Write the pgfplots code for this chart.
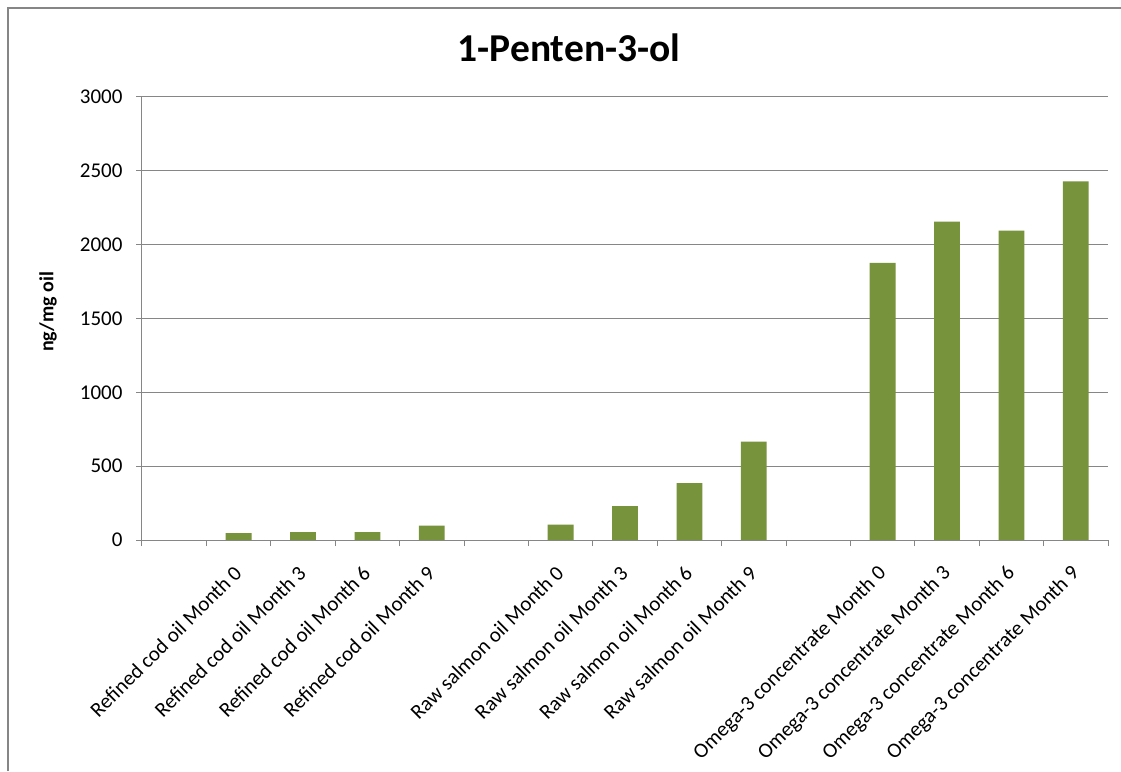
\documentclass[border=0pt]{standalone}
\usepackage{pgfplots}
\pgfplotsset{compat=1.18}
\usepackage{fontspec}
\setmainfont{Carlito}
\definecolor{barcol}{RGB}{119,147,60}
\definecolor{gridcol}{RGB}{134,134,134}
\begin{document}
\begin{tikzpicture}[x=1pt,y=1pt]
\fill[white] (0,0) rectangle (1121,771);
\draw[gridcol, line width=1.5pt] (8,0) -- (8,763) -- (1125,763);
\node[anchor=base, font=\fontsize{39.5}{44}\selectfont\bfseries] at (569,709) {1-Penten-3-ol};
\begin{axis}[
  at={(142pt,231pt)}, anchor=south west,
  width=966pt, height=443pt, scale only axis,
  xmin=0, xmax=15, ymin=0, ymax=3000,
  axis x line*=bottom, axis y line*=left,
  x axis line style={-}, y axis line style={-},
  axis line style={gridcol, line width=1pt},
  ytick={0,500,...,3000},
  ymajorgrids, grid style={gridcol, line width=1pt},
  xtick={0,...,15}, x tick label as interval,
  xticklabels={{},{Refined cod oil Month 0},{Refined cod oil Month 3},{Refined cod oil Month 6},{Refined cod oil Month 9},{},{Raw salmon oil Month 0},{Raw salmon oil Month 3},{Raw salmon oil Month 6},{Raw salmon oil Month 9},{},{Omega-3 concentrate Month 0},{Omega-3 concentrate Month 3},{Omega-3 concentrate Month 6},{Omega-3 concentrate Month 9}},
  xticklabel style={xshift=-6pt, yshift=-15pt, rotate=45, anchor=north east, font=\fontsize{21}{25}\selectfont, inner sep=2pt},
  yticklabel style={font=\fontsize{21}{25}\selectfont, xshift=-10pt},
  tick align=outside, major tick length=6pt, tick style={gridcol, line width=1pt},
  ylabel={ng/mg oil},
  ylabel style={font=\fontsize{20}{24}\selectfont\bfseries, at={(axis description cs:-0.0973,0.515)}, anchor=center},
  /pgf/number format/1000 sep={}, /pgf/number format/assume math mode=true,
]
\addplot[ybar, bar width=25.8pt, fill=barcol, draw=none] coordinates {
  (1.5,47) (2.5,54) (3.5,54) (4.5,97)
  (6.5,104) (7.5,229) (8.5,385) (9.5,667)
  (11.5,1876) (12.5,2156) (13.5,2095) (14.5,2428)
};
\end{axis}
\pgfresetboundingbox
\path[use as bounding box] (0,0) rectangle (1121,771);
\end{tikzpicture}
\end{document}
